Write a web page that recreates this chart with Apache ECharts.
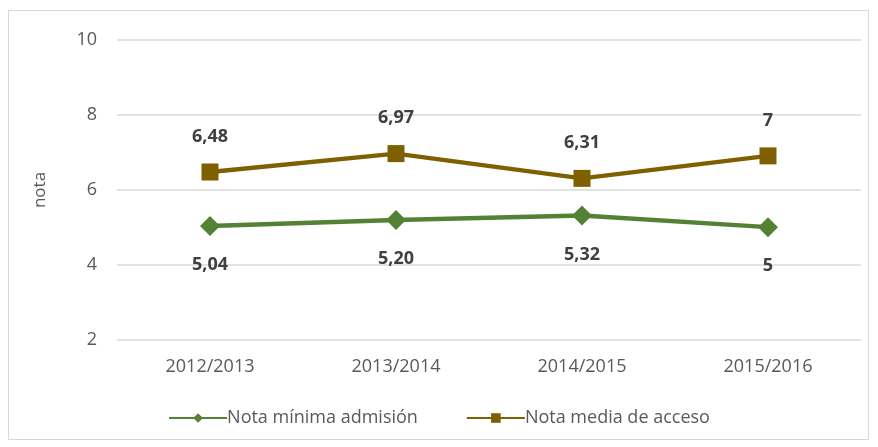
<!DOCTYPE html>
<html>
<head>
<meta charset="utf-8">
<script src="https://cdn.jsdelivr.net/npm/echarts@6/dist/echarts.min.js"></script>
<style>
  html, body { margin: 0; padding: 0; background: #fff; }
  #frame { position: absolute; left: 8px; top: 10px; width: 861px; height: 430px; border: 1px solid #d9d9d9; box-sizing: border-box; }
  #chart { width: 878px; height: 447px; }
</style>
</head>
<body>
<div id="frame"></div>
<div id="chart"></div>
<script>
  // cursos académicos
  const cursos = ['2012/2013', '2013/2014', '2014/2015', '2015/2016']
  const notaMinima = [5.04, 5.20, 5.32, 5.01]
  const notaMinimaLabels = ['5,04', '5,20', '5,32', '5']
  const notaMedia = [6.48, 6.97, 6.31, 6.91]
  const notaMediaLabels = ['6,48', '6,97', '6,31', '7']

  const font = '"Open Sans", "Noto Sans", sans-serif'
  const chart = echarts.init(document.getElementById('chart'))

  chart.setOption({
    animation: false,
    textStyle: { fontFamily: font },
    grid: { left: 117, right: 17, top: 40, bottom: 107 },
    legend: {
      bottom: 15,
      left: 'center',
      itemGap: 48,
      itemWidth: 58,
      itemHeight: 12,
      textStyle: { fontSize: 18, color: '#595959', fontFamily: font, padding: [0, 0, 0, -5] },
      data: ['Nota mínima admisión', 'Nota media de acceso']
    },
    xAxis: {
      type: 'category',
      data: cursos,
      boundaryGap: true,
      axisLine: { show: false },
      axisTick: { show: false },
      axisLabel: { fontSize: 18, color: '#595959', margin: 18 }
    },
    yAxis: {
      type: 'value',
      min: 2,
      max: 10,
      interval: 2,
      name: 'nota',
      nameLocation: 'middle',
      nameGap: 68,
      nameTextStyle: { fontSize: 17, color: '#595959' },
      axisLabel: { fontSize: 18, color: '#595959', margin: 20 },
      splitLine: { lineStyle: { color: '#d9d9d9', width: 1.5 } }
    },
    series: [
      {
        name: 'Nota mínima admisión',
        type: 'line',
        data: notaMinima,
        symbol: 'diamond',
        symbolSize: 20,
        itemStyle: { color: '#548235' },
        lineStyle: { width: 4.5, color: '#548235' },
        label: {
          show: true,
          position: 'bottom',
          distance: 20,
          fontSize: 18,
          fontWeight: 'bold',
          color: '#404040',
          formatter: p => notaMinimaLabels[p.dataIndex]
        }
      },
      {
        name: 'Nota media de acceso',
        type: 'line',
        data: notaMedia,
        symbol: 'rect',
        symbolSize: 17,
        itemStyle: { color: '#7f6000' },
        lineStyle: { width: 4.5, color: '#7f6000' },
        label: {
          show: true,
          position: 'top',
          distance: 18,
          fontSize: 18,
          fontWeight: 'bold',
          color: '#404040',
          formatter: p => notaMediaLabels[p.dataIndex]
        }
      }
    ]
  })
</script>
</body>
</html>
